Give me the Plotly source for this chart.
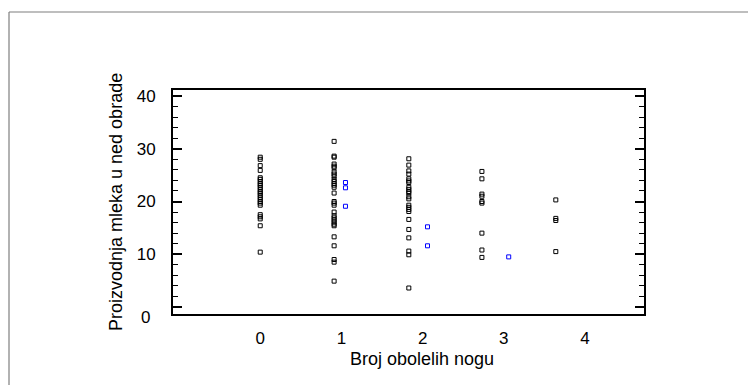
import plotly.graph_objects as go

# Data
x_black_pos = [0.0, 0.91, 1.83, 2.73, 3.64]
black_groups = [
    [28.4, 28.0, 26.8, 25.9, 24.5, 24.2, 23.8, 23.4, 23.1, 22.7, 22.3, 21.9, 21.6, 21.2,
     20.8, 20.4, 20.0, 19.7, 19.3, 17.5, 17.1, 16.7, 15.4, 10.4],
    [31.4, 28.6, 28.4, 27.1, 26.7, 26.4, 25.6, 25.2, 24.8, 24.2, 23.8, 23.4, 23.1, 22.7,
     21.6, 20.0, 19.7, 19.3, 18.0, 17.3, 16.9, 16.5, 16.1, 15.7, 15.4, 13.3, 11.6, 9.0,
     8.5, 4.9],
    [28.1, 26.9, 25.8, 25.2, 24.3, 23.9, 23.6, 22.7, 22.3, 21.9, 21.6, 20.9, 20.5, 19.3,
     18.9, 18.5, 18.1, 16.6, 14.7, 13.1, 10.6, 9.9, 3.6],
    [25.7, 24.3, 21.4, 21.0, 20.0, 19.7, 14.0, 10.8, 9.4],
    [20.3, 16.8, 16.4, 10.5],
]
x_blue_pos = [1.05, 2.06, 3.06]
blue_groups = [
    [23.6, 22.6, 19.1],
    [15.2, 11.6],
    [9.5],
]
x_ticks = [0, 1, 2, 3, 4]
y_ticks = [0, 10, 20, 30, 40]
x_title = "Broj obolelih nogu"
y_title = "Proizvodnja mleka u ned obrade"

bx, by = [], []
for xp, g in zip(x_black_pos, black_groups):
    bx += [xp] * len(g)
    by += g
ux, uy = [], []
for xp, g in zip(x_blue_pos, blue_groups):
    ux += [xp] * len(g)
    uy += g

fig = go.Figure()
fig.add_trace(go.Scatter(x=bx, y=by, mode="markers",
                         marker=dict(symbol="square-open", size=4, color="black",
                                     line=dict(width=1, color="black")),
                         showlegend=False))
fig.add_trace(go.Scatter(x=ux, y=uy, mode="markers",
                         marker=dict(symbol="square-open", size=4, color="#0000ff",
                                     line=dict(width=1, color="#0000ff")),
                         showlegend=False))

OFF = 8  # page body margin offset
L, R, T, B = 173 - OFF, 644 - OFF, 90 - OFF, 314 - OFF
W, H = 756, 385
pw, ph = R - L, B - T

tick_font = dict(family="Liberation Sans, Arial, sans-serif", size=17, color="black")
title_font = dict(family="Liberation Sans, Arial, sans-serif", size=18, color="black")

fig.update_layout(
    width=W, height=H,
    margin=dict(l=L, r=W - R, t=T, b=H - B),
    paper_bgcolor="white", plot_bgcolor="white",
    font=tick_font,
    xaxis=dict(range=[-1.074, 4.726], tickvals=x_ticks, ticktext=[str(v) for v in x_ticks],
               ticks="", showgrid=False, zeroline=False, showline=True, linecolor="black",
               linewidth=2, mirror=True, ticklabelstandoff=8, tickfont=tick_font),
    yaxis=dict(range=[-1.33, 41.14], tickvals=y_ticks,
               ticktext=["" if v == 0 else str(v) for v in y_ticks],
               ticks="inside", ticklen=9, tickwidth=1.5, tickcolor="black",
               minor=dict(dtick=2, ticks="inside", ticklen=5, tickwidth=1, tickcolor="black"),
               showgrid=False, zeroline=False, showline=True, linecolor="black",
               linewidth=2, mirror="allticks", ticklabelstandoff=12, tickfont=tick_font),
)

# outer frame (top and left edges visible)
fx0 = (9 - OFF - L) / pw
fx1 = (W + 5 - L) / pw
fy_top = (B - (12 - OFF)) / ph
fy_bot = (B - (H + 5)) / ph
fig.add_shape(type="line", xref="paper", yref="paper", x0=fx0, x1=fx1, y0=fy_top, y1=fy_top,
              line=dict(color="#7f7f7f", width=1.2))
fig.add_shape(type="line", xref="paper", yref="paper", x0=fx0, x1=fx0, y0=fy_bot, y1=fy_top,
              line=dict(color="#7f7f7f", width=1.2))

# "0" tick label (drawn slightly below its tick, as in the reference)
fig.add_annotation(x=(152 - OFF - L) / pw, xref="paper", y=(B - (317 - OFF)) / ph, yref="paper",
                   text="0", showarrow=False, xanchor="right", yanchor="middle", font=tick_font)

# axis titles
fig.add_annotation(x=(422 - OFF - L) / pw, xref="paper", y=(B - (359 - OFF)) / ph, yref="paper",
                   text=x_title, showarrow=False, xanchor="center", yanchor="middle",
                   font=title_font)
fig.add_annotation(x=(116 - OFF - L) / pw, xref="paper", y=(B - (202 - OFF)) / ph, yref="paper",
                   text=y_title, showarrow=False, textangle=-90,
                   xanchor="center", yanchor="middle", font=title_font)

fig.write_html("out.html")
